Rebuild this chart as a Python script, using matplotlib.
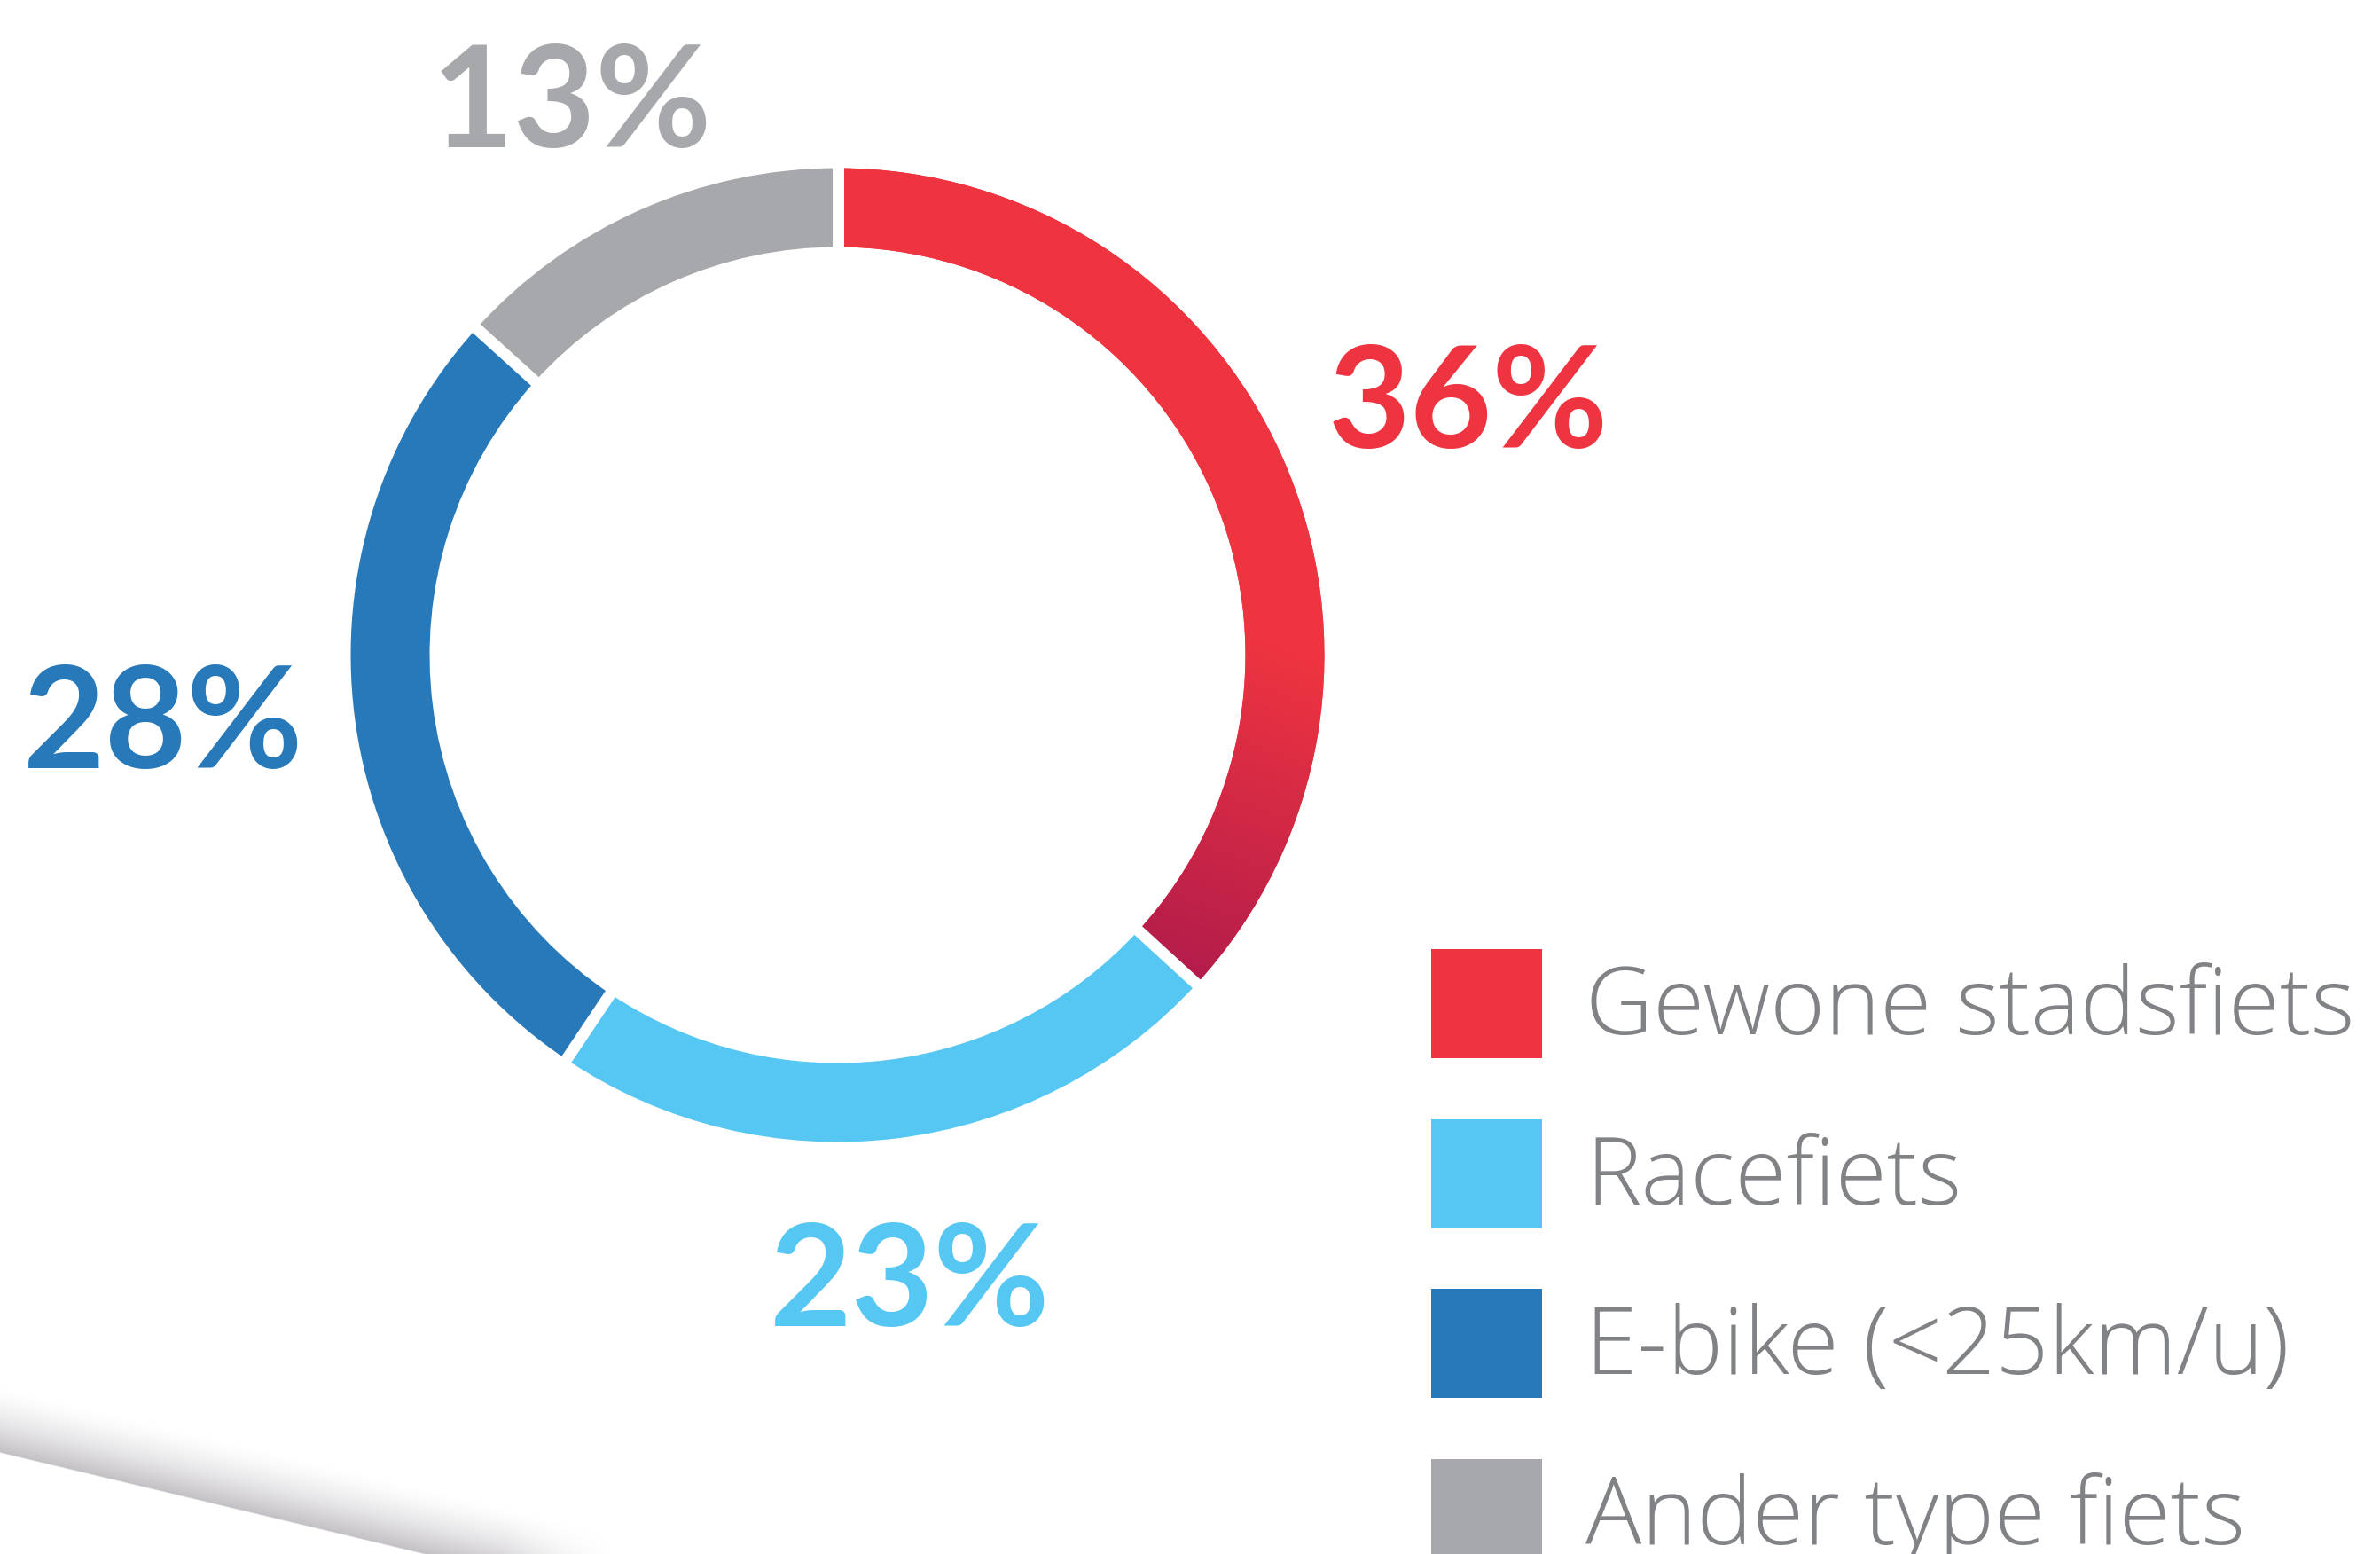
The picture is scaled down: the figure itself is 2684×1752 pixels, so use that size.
import numpy as np
import matplotlib
matplotlib.use("Agg")
import matplotlib.pyplot as plt
from matplotlib.patches import Rectangle
from matplotlib.colors import to_rgb

# ---------------- data ----------------
categories = ["Gewone stadsfiets", "Racefiets", "E-bike (<25km/u)", "Ander type fiets"]
# arc sizes as drawn in the picture (labels show the rounded figures)
values = [36.8, 22.6, 27.3, 13.3]
labels = ["36%", "23%", "28%", "13%"]
colors = ["#EE3440", "#55C7F2", "#2779BA", "#A7A8AB"]
gradient_end = "#B21C4B"

# label anchor positions (pixel coords, x centre / baseline from top)
label_x = [1656, 1026, 184, 645]
label_y = [505, 1495, 866, 166]

W, H = 2684, 1752
fig = plt.figure(figsize=(W / 100, H / 100), dpi=100)
ax = fig.add_axes([0, 0, 1, 1])

cx, cy = 944.5, H - 738.5
R, ring = 549, 89

wedges, _ = ax.pie(values, startangle=90, counterclock=False, colors=colors,
                   radius=R, center=(cx, cy),
                   wedgeprops=dict(width=ring, linewidth=0), frame=True)

# gradient on first (red) wedge
x0, x1 = cx - 5, cx + R + 5
yb, yt = cy - R - 5, cy + R + 5
nx, ny = 300, 600
xs = np.linspace(x0, x1, nx)
ys_pix = H - np.linspace(yt, yb, ny)
XX, YY = np.meshgrid(xs, ys_pix)
p0 = np.array([1460.0, 740.0])
p1 = np.array([1320.0, 1100.0])
u = p1 - p0
L2 = (u ** 2).sum()
t = ((XX - p0[0]) * u[0] + (YY - p0[1]) * u[1]) / L2
t = np.clip(t, 0, 1)
c0 = np.array(to_rgb(colors[0]))
c1 = np.array(to_rgb(gradient_end))
img = c0[None, None, :] * (1 - t[..., None]) + c1[None, None, :] * t[..., None]
im = ax.imshow(img, extent=(x0, x1, yb, yt), origin="upper",
               interpolation="bilinear", zorder=2)
im.set_clip_path(wedges[0])

# white separators
cum = np.concatenate([[0], np.cumsum(values)[:-1]]) / np.sum(values)
for c in cum:
    th = np.deg2rad(90 - 360 * c)
    r_in, r_out = R - ring - 10, R + 10
    ax.plot([cx + r_in * np.cos(th), cx + r_out * np.cos(th)],
            [cy + r_in * np.sin(th), cy + r_out * np.sin(th)],
            color="white", lw=13 * 0.72, solid_capstyle="butt", zorder=5)

# percentage labels
for lab, lx, ly, col in zip(labels, label_x, label_y, colors):
    ax.text(lx, H - ly, lab, ha="center", va="baseline", fontsize=115,
            fontweight="bold", family=["Lato", "DejaVu Sans"], color=col, zorder=6)

# legend
sq_x, sq_w, sq_h = 1614, 125, 123
row0_top, row_step = 1070, 191.7
text_x, text_base0 = 1788, 1166
for i, (cat, col) in enumerate(zip(categories, colors)):
    top = row0_top + row_step * i
    ax.add_patch(Rectangle((sq_x, H - top - sq_h), sq_w, sq_h, facecolor=col,
                           edgecolor="none", zorder=6))
    ax.text(text_x, H - (text_base0 + row_step * i), cat, ha="left", va="baseline",
            fontsize=76, fontweight=300, family=["Open Sans", "DejaVu Sans"],
            color="#808285", zorder=6)

# paper-curl shadow at bottom-left
sx = np.linspace(0, 820, 820)
sy = np.linspace(1480, H, 272)
SX, SY = np.meshgrid(sx, sy)
q0 = np.array([0.0, 1637.0])
dvec = np.array([480.0, 115.0])
nvec = np.array([dvec[1], -dvec[0]]) / np.hypot(*dvec)
d = (SX - q0[0]) * nvec[0] + (SY - q0[1]) * nvec[1]
alpha = np.where(d >= 0, np.clip(1 - d / 72, 0, 1) ** 1.5, np.clip(1 + d / 1.5, 0, 1))
s = ((SX - q0[0]) * dvec[0] + (SY - q0[1]) * dvec[1]) / np.hypot(*dvec)
alpha *= np.clip((700 - s) / 120, 0, 1)
shadow = np.zeros(SX.shape + (4,))
shadow[..., 0] = 0.77
shadow[..., 1] = 0.76
shadow[..., 2] = 0.78
shadow[..., 3] = alpha
ax.imshow(shadow, extent=(0, 820, 0, H - 1480), origin="upper",
          interpolation="bilinear", zorder=1)

ax.set_xlim(0, W)
ax.set_ylim(0, H)
ax.set_aspect("auto")
ax.axis("off")
fig.savefig("out.png", dpi=100, facecolor="white")
